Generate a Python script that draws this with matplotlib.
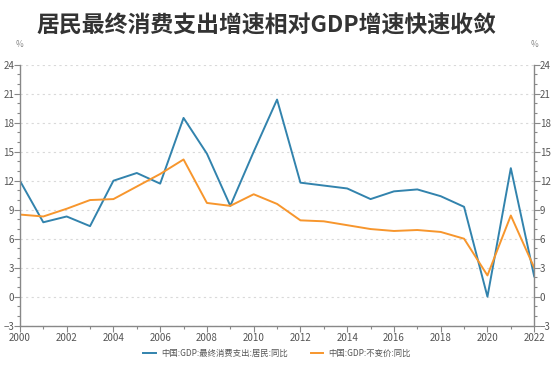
import numpy as np
import matplotlib.pyplot as plt
from matplotlib.ticker import MultipleLocator

plt.rcParams['font.family'] = ['Noto Sans CJK SC', 'DejaVu Sans']

years = np.arange(2000, 2023)
consumo = [12.0, 7.7, 8.3, 7.3, 12.0, 12.8, 11.7, 18.5, 14.8, 9.4, 15.0, 20.4,
           11.8, 11.5, 11.2, 10.1, 10.9, 11.1, 10.4, 9.3, 0.0, 13.3, 2.1]
gdp = [8.5, 8.3, 9.1, 10.0, 10.1, 11.4, 12.7, 14.2, 9.7, 9.4, 10.6, 9.6,
       7.9, 7.8, 7.4, 7.0, 6.8, 6.9, 6.7, 6.0, 2.2, 8.4, 3.0]
nombres = ['中国:GDP:最终消费支出:居民:同比', '中国:GDP:不变价:同比']
titulo = '居民最终消费支出增速相对GDP增速快速收敛'

gris = '#888888'
fig = plt.figure(figsize=(5.53, 3.68), dpi=100)
ax = fig.add_axes([0.036, 0.115, 0.93, 0.709])

ax.plot(years, consumo, color='#3283ad', lw=1.4, label=nombres[0])
ax.plot(years, gdp, color='#f7962d', lw=1.4, label=nombres[1])

ax.set_xlim(2000, 2022)
ax.set_ylim(-3, 24)
ax.xaxis.set_major_locator(MultipleLocator(2))
ax.xaxis.set_minor_locator(MultipleLocator(1))
ax.yaxis.set_major_locator(MultipleLocator(3))
ax.yaxis.set_minor_locator(MultipleLocator(1))
ax.grid(axis='y', which='major', color='#d9d9d9', ls=(0, (2, 3)), lw=0.8)

for s in ['left', 'right', 'bottom']:
    ax.spines[s].set_color(gris)
    ax.spines[s].set_linewidth(1.0)
ax.spines['top'].set_visible(False)

ax.tick_params(axis='both', which='both', colors=gris, labelcolor='#555555',
               labelsize=7, direction='out')
ax.tick_params(axis='both', which='major', length=4, width=0.8, pad=1)
ax.tick_params(axis='both', which='minor', length=2.5, width=0.8)
ax.tick_params(axis='y', right=True, labelright=True, which='both')
ax.tick_params(axis='y', which='major', pad=0)

fig.text(0.036, 0.872, '%', fontsize=6, color=gris, ha='center')
fig.text(0.966, 0.872, '%', fontsize=6, color=gris, ha='center')

fig.suptitle(titulo, x=0.481, y=0.96, fontsize=16.5, fontweight='bold', color='#333333')

ax.legend(loc='upper center', bbox_to_anchor=(0.5, -0.06), ncol=2, frameon=False,
          fontsize=6, labelcolor='#555555', handlelength=1.5, handletextpad=0.6,
          columnspacing=2.8)

fig.savefig('out.png', dpi=100)
